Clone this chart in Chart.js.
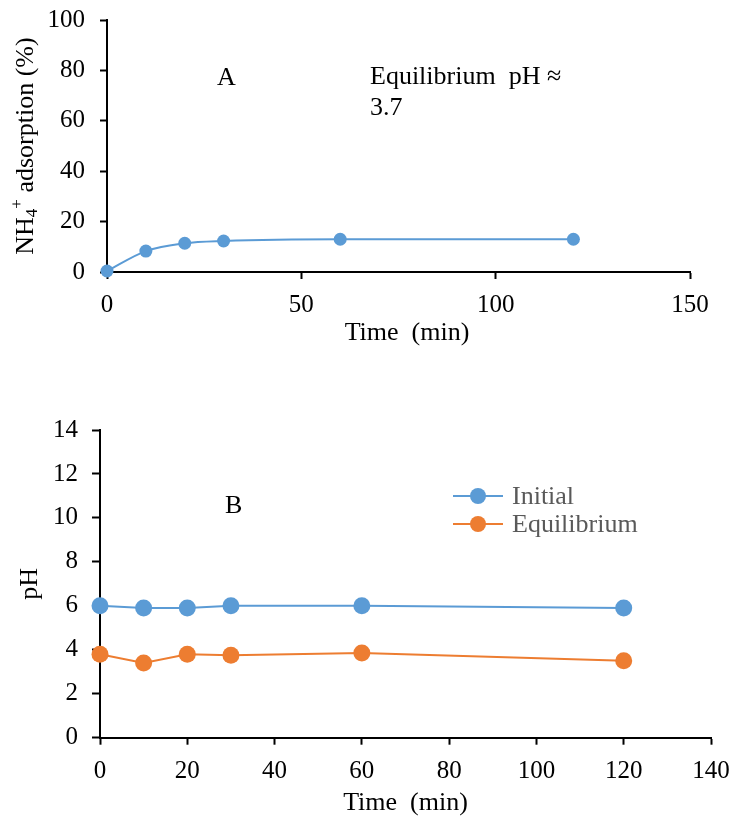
<!DOCTYPE html>
<html><head><meta charset="utf-8">
<script src="https://cdn.jsdelivr.net/npm/chart.js@4"></script>
<style>
html,body{margin:0;padding:0;background:#fff;width:734px;height:816px;overflow:hidden}
#ca{position:absolute;left:0;top:0}
#cb{position:absolute;left:0;top:390px}
</style></head><body>
<canvas id="ca" width="734" height="380"></canvas>
<canvas id="cb" width="734" height="426"></canvas>
<script>
// ---- data ----
const timeA = [0, 10, 20, 30, 60, 120];
const adsorptionA = [0.4, 8.3, 11.4, 12.3, 13.0, 13.0];
const timeB = [0, 10, 20, 30, 60, 120];
const initialPH = [6.0, 5.9, 5.9, 6.0, 6.0, 5.9];
const equilibriumPH = [3.8, 3.4, 3.8, 3.75, 3.85, 3.5];
const seriesNamesB = ['Initial', 'Equilibrium'];
const xTicksA = [0, 50, 100, 150];
const yTicksA = [0, 20, 40, 60, 80, 100];
const xTicksB = [0, 20, 40, 60, 80, 100, 120, 140];
const yTicksB = [0, 2, 4, 6, 8, 10, 12, 14];
const xTitle = 'Time  (min)';
const noteA = ['Equilibrium  pH \u2248', '3.7'];

const FAM = '"Liberation Serif", "Times New Roman", serif';
const BLUE = '#5B9BD5', ORANGE = '#ED7D31';

function pts(xs, ys) { return xs.map((x, i) => ({x: x, y: ys[i]})); }
function fixTicks(arr) { return function(scale){ scale.ticks = arr.map(v => ({value: v})); }; }

function axis(ticksArr, opts) {
  return Object.assign({
    type: 'linear',
    min: ticksArr[0], max: ticksArr[ticksArr.length - 1],
    afterBuildTicks: fixTicks(ticksArr),
    border: {display: true, color: '#000', width: 2},
    grid: {display: true, drawOnChartArea: false, drawTicks: true, tickLength: 7, tickWidth: 2, tickColor: '#000'},
    ticks: {color: '#000', font: {family: FAM, size: 25}, padding: 12, maxRotation: 0, autoSkip: false}
  }, opts);
}
function fitX(h) { return function(s){ s.height = h; s.paddingLeft = 0; s.paddingRight = 0; }; }
function fitY(w) { return function(s){ s.width = w; s.paddingTop = 0; s.paddingBottom = 0; }; }

// ---- chart A ----
const textA = {
  id: 'textA',
  afterDraw(chart) {
    const ctx = chart.ctx;
    const ca = chart.chartArea;
    ctx.save();
    ctx.fillStyle = '#000';
    ctx.textBaseline = 'alphabetic';
    ctx.textAlign = 'left';
    ctx.font = '26px ' + FAM;
    ctx.fillText('A', 217, 85);
    ctx.fillText(noteA[0], 370, 84);
    ctx.fillText(noteA[1], 370, 115);
    // x-axis title
    ctx.textAlign = 'center';
    ctx.fillText(xTitle, 407, 340);
    ctx.textAlign = 'left';
    // rotated y-axis title with sub/superscript
    const parts = [
      {t: 'NH', s: 26, dy: 0},
      {t: '4', s: 17, dy: 4},
      {t: '+', s: 17, dy: -11},
      {t: ' adsorption (%)', s: 26, dy: 0}
    ];
    let total = 0;
    parts.forEach(p => { ctx.font = p.s + 'px ' + FAM; p.w = ctx.measureText(p.t).width; total += p.w; });
    ctx.translate(33, (ca.top + ca.bottom) / 2);
    ctx.rotate(-Math.PI / 2);
    let x = -total / 2;
    parts.forEach(p => { ctx.font = p.s + 'px ' + FAM; ctx.fillText(p.t, x, p.dy); x += p.w; });
    ctx.restore();
  }
};

new Chart(document.getElementById('ca'), {
  type: 'scatter',
  data: {datasets: [{
    label: 'NH4+ adsorption',
    data: pts(timeA, adsorptionA),
    showLine: true, borderColor: BLUE, backgroundColor: BLUE, borderWidth: 2,
    pointRadius: 6.5, pointHoverRadius: 6.5, pointBorderWidth: 0,
    tension: 0.4, cubicInterpolationMode: 'monotone', clip: false
  }]},
  options: {
    responsive: false, animation: false, devicePixelRatio: 1,
    layout: {padding: {left: 0, top: 20, right: 44, bottom: 0}},
    plugins: {legend: {display: false}, tooltip: {enabled: false}},
    scales: {
      x: axis(xTicksA, {
        position: 'bottom',
        ticks: {color: '#000', font: {family: FAM, size: 25}, padding: 11, maxRotation: 0, autoSkip: false},
        title: {display: false},
        afterFit: fitX(108)
      }),
      y: axis(yTicksA, {
        position: 'left',
        ticks: {color: '#000', font: {family: FAM, size: 25}, padding: 15, autoSkip: false},
        afterFit: fitY(107)
      })
    }
  },
  plugins: [textA]
});

// ---- chart B ----
const textB = {
  id: 'textB',
  afterDraw(chart) {
    const ctx = chart.ctx;
    ctx.save();
    ctx.fillStyle = '#000';
    ctx.textBaseline = 'alphabetic';
    ctx.textAlign = 'left';
    ctx.font = '26px ' + FAM;
    ctx.fillText('B', 225, 123);
    // legend
    const rows = [106, 134];
    chart.data.datasets.forEach((ds, i) => {
      const y = rows[i];
      ctx.strokeStyle = ds.borderColor; ctx.lineWidth = 2;
      ctx.beginPath(); ctx.moveTo(453, y); ctx.lineTo(503, y); ctx.stroke();
      ctx.fillStyle = ds.backgroundColor;
      ctx.beginPath(); ctx.arc(478, y, 8, 0, Math.PI * 2); ctx.fill();
      ctx.fillStyle = '#595959';
      ctx.fillText(ds.label, 512, y + 8);
    });
    ctx.restore();
  }
};

function seriesB(label, ys, color) {
  return {
    label: label, data: pts(timeB, ys),
    showLine: true, borderColor: color, backgroundColor: color, borderWidth: 2,
    pointRadius: 8.5, pointHoverRadius: 8.5, pointBorderWidth: 0, tension: 0, clip: false
  };
}

new Chart(document.getElementById('cb'), {
  type: 'scatter',
  data: {datasets: [
    seriesB(seriesNamesB[0], initialPH, BLUE),
    seriesB(seriesNamesB[1], equilibriumPH, ORANGE)
  ]},
  options: {
    responsive: false, animation: false, devicePixelRatio: 1,
    layout: {padding: {left: 0, top: 40, right: 23, bottom: 0}},
    plugins: {legend: {display: false}, tooltip: {enabled: false}},
    scales: {
      x: axis(xTicksB, {
        position: 'bottom',
        ticks: {color: '#000', font: {family: FAM, size: 25}, padding: 12, maxRotation: 0, autoSkip: false},
        title: {display: true, text: xTitle, color: '#000', font: {family: FAM, size: 26, lineHeight: 1}, padding: {top: 0, bottom: 0}},
        afterFit: fitX(78.3)
      }),
      y: axis(yTicksB, {
        position: 'left',
        grid: {display: true, drawOnChartArea: false, drawTicks: true, tickLength: 8, tickWidth: 2, tickColor: '#000'},
        ticks: {color: '#000', font: {family: FAM, size: 25}, padding: 14, autoSkip: false},
        title: {display: true, text: 'pH', color: '#000', font: {family: FAM, size: 26, lineHeight: 1}, padding: {top: 17, bottom: 0}},
        afterFit: fitY(100)
      })
    }
  },
  plugins: [textB]
});
</script>
</body></html>
